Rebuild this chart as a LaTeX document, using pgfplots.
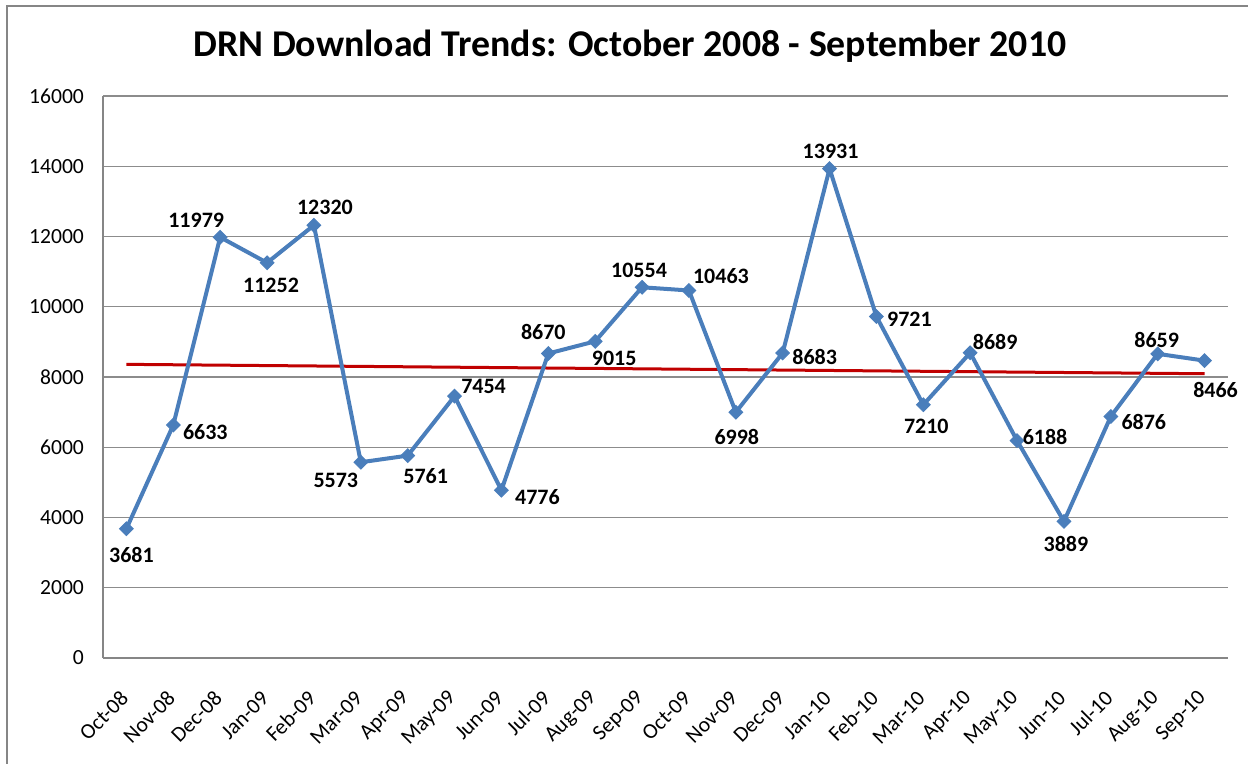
\documentclass[border=0pt]{standalone}
\usepackage{pgfplots}
\pgfplotsset{compat=1.18}
\usepackage{pgfplotstable}
\usepackage{fontspec}
\setmainfont{Carlito}
\definecolor{lineblue}{HTML}{4A7EBB}
\definecolor{trendred}{HTML}{C00000}
\definecolor{axisgray}{RGB}{134,134,134}
\definecolor{gridgray}{RGB}{140,140,140}
\pgfplotstableread{
x y dx dy
0 3681 2.5 -13
1 6633 16 -3.5
2 11979 -12 8.5
3 11252 2 -11.5
4 12320 5.5 9
5 5573 -12.5 -9
6 5761 9 -10
7 7454 14.5 4.75
8 4776 18 -3.25
9 8670 -2.5 10.5
10 9015 9.5 -8.75
11 10554 -1.5 8.25
12 10463 16 7
13 6998 0.5 -12.5
14 8683 16 -1.75
15 13931 0.5 8.5
16 9721 16.5 -1.5
17 7210 1.5 -11
18 8689 12.5 5.5
19 6188 14 2
20 3889 1 -11.35
21 6876 16.5 -3
22 8659 -0.5 7
23 8466 5.5 -14.5
}\datatable
\begin{document}
\begin{tikzpicture}
\path[use as bounding box] (-51.5pt,-53pt) rectangle (572.5pt,329pt);
\draw[axisgray, line width=0.7pt] (-48pt,-60pt) -- (-48pt,326pt) -- (580pt,326pt);
\begin{axis}[
  at={(0pt,0pt)}, anchor=south west,
  scale only axis,
  width=562.5pt, height=281pt,
  xmin=-0.5, xmax=23.5,
  ymin=0, ymax=16000,
  ytick={0,2000,...,16000},
  xtick={0,...,23},
  xticklabels={Oct-08,Nov-08,Dec-08,Jan-09,Feb-09,Mar-09,Apr-09,May-09,Jun-09,Jul-09,Aug-09,Sep-09,Oct-09,Nov-09,Dec-09,Jan-10,Feb-10,Mar-10,Apr-10,May-10,Jun-10,Jul-10,Aug-10,Sep-10},
  scaled y ticks=false,
  /pgf/number format/assume math mode=true,
  /pgf/number format/1000 sep={},
  major tick length=0pt,
  axis x line*=bottom, axis y line*=left,
  axis line style={-, draw=axisgray, line width=1pt},
  ymajorgrids,
  grid style={gridgray, line width=0.6pt},
  yticklabel style={font=\fontsize{10.8}{13}\selectfont, anchor=east, xshift=-6pt},
  xticklabel style={font=\fontsize{10.8}{13}\selectfont, xshift=1.5pt, yshift=-16pt, rotate=45, anchor=east},
  clip=false,
]
\addplot[trendred, line width=1.5pt] coordinates {(0,8360) (23,8093)};
\addplot[lineblue, line width=2pt, mark=square*, mark size=2.4pt,
  mark options={rotate=45, fill=lineblue, draw=lineblue, line width=0.5pt},
  point meta=explicit symbolic,
  visualization depends on={\thisrow{dx} \as \ldx},
  visualization depends on={\thisrow{dy} \as \ldy},
  nodes near coords,
  nodes near coords style={anchor=center, inner sep=0pt, text=black,
    font=\fontsize{11}{13}\selectfont\bfseries,
    xshift=\ldx*1pt, yshift=\ldy*1pt},
] table[x=x, y=y, meta=y] {\datatable};
\end{axis}
\node[anchor=base, font=\fontsize{18.9}{22}\selectfont\bfseries] at (263.5pt,300.5pt) {DRN Download Trends: October 2008 - September 2010};
\end{tikzpicture}
\end{document}
